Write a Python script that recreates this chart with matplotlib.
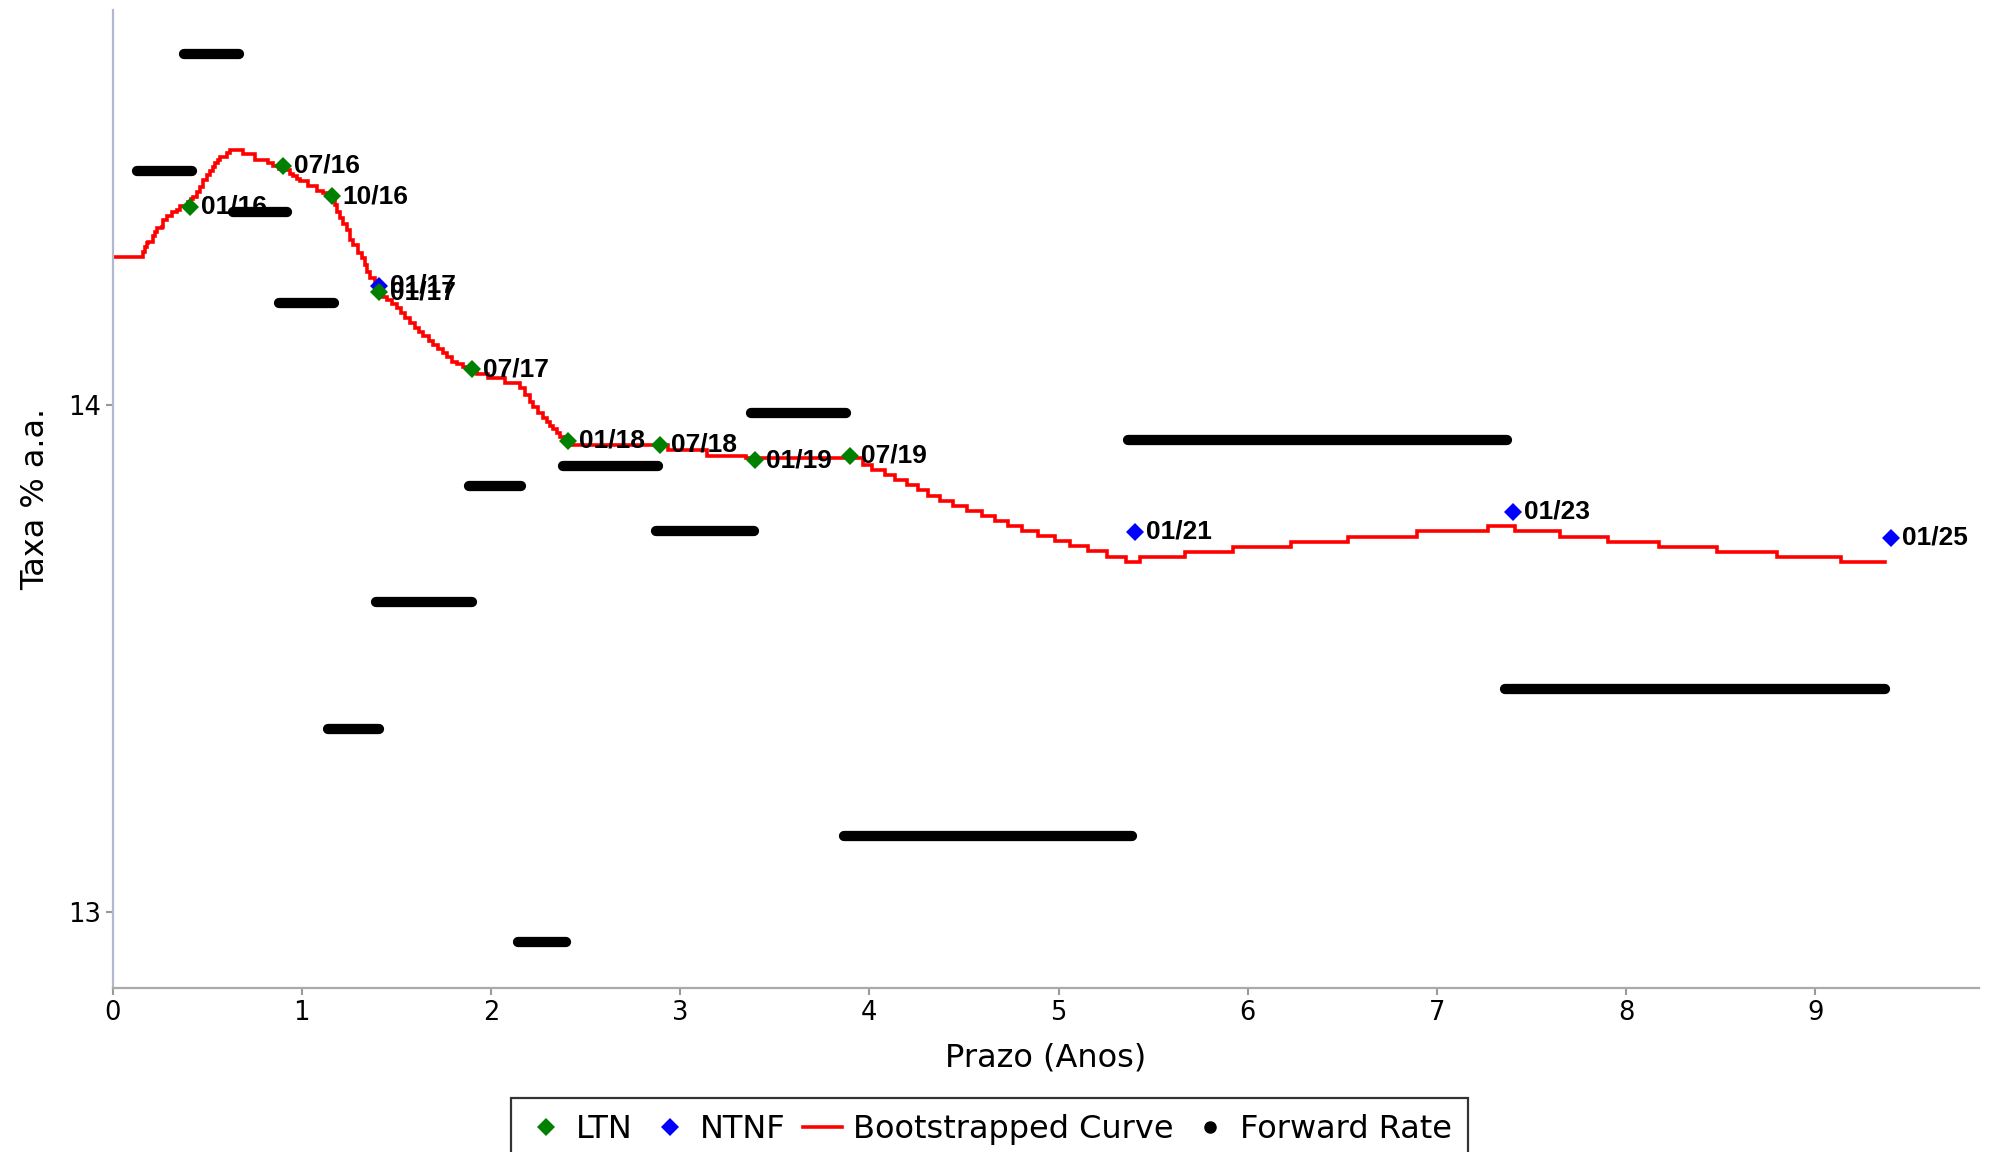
import matplotlib
matplotlib.use("Agg")
import matplotlib.pyplot as plt
from matplotlib.lines import Line2D

# ---------------- data ----------------
ltn_labels = ["01/16", "07/16", "10/16", "01/17", "07/17", "01/18", "07/18", "01/19", "07/19"]
ltn_x = [0.410, 0.900, 1.158, 1.410, 1.898, 2.409, 2.891, 3.397, 3.898]
ltn_y = [14.390, 14.471, 14.411, 14.222, 14.070, 13.929, 13.921, 13.890, 13.899]

ntnf_labels = ["01/17", "01/21", "01/23", "01/25"]
ntnf_x = [1.410, 5.404, 7.400, 9.398]
ntnf_y = [14.234, 13.749, 13.789, 13.738]

# bootstrapped curve (step-post vertices)
curve_x = [0.000, 0.160, 0.170, 0.180, 0.189, 0.216, 0.225, 0.233, 0.260, 0.269,
           0.286, 0.313, 0.339, 0.357, 0.400, 0.415, 0.427, 0.445, 0.462, 0.480,
           0.498, 0.515, 0.530, 0.542, 0.555, 0.568, 0.604, 0.621, 0.691, 0.753,
           0.824, 0.850, 0.880, 0.910, 0.938, 0.955, 0.974, 0.991, 1.035, 1.079,
           1.114, 1.140, 1.165, 1.176, 1.184, 1.200, 1.220, 1.238, 1.255, 1.273,
           1.299, 1.317, 1.335, 1.344, 1.361, 1.385, 1.410, 1.430, 1.449, 1.475,
           1.502, 1.525, 1.546, 1.570, 1.599, 1.620, 1.643, 1.670, 1.696, 1.720,
           1.748, 1.770, 1.793, 1.819, 1.854, 1.898, 1.925, 1.986, 2.074, 2.154,
           2.180, 2.207, 2.224, 2.251, 2.277, 2.295, 2.312, 2.330, 2.348, 2.365,
           2.409, 2.420, 2.935, 3.140, 3.350, 3.968, 4.013, 4.083, 4.136, 4.198,
           4.259, 4.312, 4.374, 4.444, 4.515, 4.594, 4.664, 4.735, 4.805, 4.893,
           4.981, 5.061, 5.158, 5.255, 5.355, 5.428, 5.669, 5.922, 6.227, 6.530,
           6.893, 7.272, 7.413, 7.650, 7.906, 8.175, 8.482, 8.796, 9.134, 9.368]
curve_y = [14.292, 14.300, 14.310, 14.318, 14.321, 14.332, 14.340, 14.348, 14.351, 14.364,
           14.372, 14.380, 14.384, 14.392, 14.400, 14.405, 14.410, 14.420, 14.430, 14.442,
           14.453, 14.461, 14.468, 14.476, 14.482, 14.489, 14.497, 14.502, 14.494, 14.482,
           14.476, 14.470, 14.465, 14.462, 14.455, 14.450, 14.445, 14.440, 14.431, 14.422,
           14.418, 14.413, 14.405, 14.394, 14.380, 14.368, 14.357, 14.344, 14.325, 14.315,
           14.298, 14.289, 14.275, 14.262, 14.249, 14.235, 14.222, 14.213, 14.206, 14.198,
           14.190, 14.180, 14.170, 14.160, 14.151, 14.143, 14.135, 14.126, 14.118, 14.110,
           14.101, 14.093, 14.085, 14.080, 14.075, 14.068, 14.060, 14.052, 14.042, 14.032,
           14.019, 14.006, 13.995, 13.983, 13.973, 13.965, 13.958, 13.951, 13.944, 13.937,
           13.929, 13.921, 13.911, 13.899, 13.895, 13.881, 13.871, 13.861, 13.852, 13.842,
           13.832, 13.820, 13.810, 13.800, 13.791, 13.781, 13.771, 13.761, 13.751, 13.741,
           13.731, 13.721, 13.711, 13.700, 13.689, 13.699, 13.710, 13.720, 13.730, 13.740,
           13.750, 13.761, 13.750, 13.740, 13.730, 13.719, 13.709, 13.699, 13.689, 13.689]

# forward rates (piecewise constant)
fwd_start = [0.130, 0.380, 0.637, 0.877, 1.141, 1.390, 1.886, 2.141, 2.382, 2.871, 3.374, 3.864, 5.365, 7.357]
fwd_end   = [0.420, 0.668, 0.920, 1.171, 1.410, 1.900, 2.161, 2.396, 2.885, 3.388, 3.878, 5.386, 7.371, 9.369]
fwd_rate  = [14.461, 14.691, 14.380, 14.200, 13.360, 13.610, 13.840, 12.940, 13.880, 13.750, 13.983, 13.150, 13.930, 13.440]

x_ticks = [0, 1, 2, 3, 4, 5, 6, 7, 8, 9]
y_ticks = [13, 14]

# ---------------- figure ----------------
fig = plt.figure(figsize=(19.89, 11.52), dpi=100)
ax = fig.add_axes([0.0566, 0.1424, 0.9384, 0.8489])

ax.plot(curve_x, curve_y, color="#ff0000", lw=2.6, drawstyle="steps-post", zorder=2,
        solid_joinstyle="miter")
ax.plot(ltn_x, ltn_y, "D", color="#008000", ms=9.3, mew=0, zorder=3, linestyle="none")
ax.plot(ntnf_x, ntnf_y, "D", color="#0000ff", ms=9.3, mew=0, zorder=2.9, linestyle="none")

lab_font = dict(family=["Liberation Sans", "DejaVu Sans"], weight="bold", size=19)
for lx, ly, lt in zip(ntnf_x, ntnf_y, ntnf_labels):
    ax.annotate(lt, (lx, ly), xytext=(8.0, 0), textcoords="offset points",
                ha="left", va="center", zorder=3, **lab_font)
for lx, ly, lt in zip(ltn_x, ltn_y, ltn_labels):
    ax.annotate(lt, (lx, ly), xytext=(8.0, 0), textcoords="offset points",
                ha="left", va="center", zorder=3, **lab_font)

for s, e, r in zip(fwd_start, fwd_end, fwd_rate):
    ax.plot([s, e], [r, r], color="black", lw=7.4, solid_capstyle="round", zorder=4)

ax.set_xlim(0, 9.865)
ax.set_ylim(12.850, 14.778)
ax.set_xticks(x_ticks)
ax.set_yticks(y_ticks)
ax.tick_params(axis="both", labelsize=18.5, length=5, width=1.5, color="#999999", direction="out")

for side in ["top", "right"]:
    ax.spines[side].set_visible(False)
for side in ["left", "bottom"]:
    ax.spines[side].set_color("#aaaaaa")
    ax.spines[side].set_linewidth(1.6)
ax.spines["left"].set_color("#b4b8cc")

ax.set_xlabel("Prazo (Anos)", fontsize=23, labelpad=12)
ax.set_ylabel("Taxa % a.a.", fontsize=23, labelpad=12)

handles = [
    Line2D([], [], marker="D", color="#008000", ms=9, mew=0, linestyle="none"),
    Line2D([], [], marker="D", color="#0000ff", ms=9, mew=0, linestyle="none"),
    Line2D([], [], color="#ff0000", lw=2.6),
    Line2D([], [], marker="o", color="black", ms=8, linestyle="none"),
]
leg = fig.legend(handles, ["LTN", "NTNF", "Bootstrapped Curve", "Forward Rate"],
                 loc="upper center", bbox_to_anchor=(0.4975, 0.0465), ncol=4,
                 fontsize=23, frameon=True, fancybox=False, edgecolor="black",
                 handlelength=1.2, handletextpad=0.35, columnspacing=0.55,
                 borderpad=0.5, borderaxespad=0)
leg.get_frame().set_linewidth(1.6)

fig.savefig("out.png", dpi=100)
